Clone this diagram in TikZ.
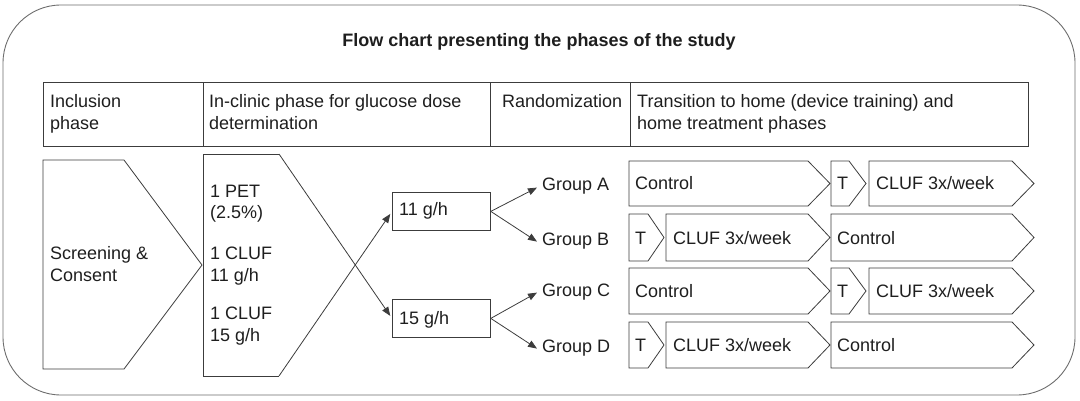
\documentclass[tikz,border=0pt]{standalone}
\usepackage{fontspec}
\setmainfont{Liberation Sans}
\usetikzlibrary{arrows.meta}
\definecolor{ln}{HTML}{3C3C3C}
\definecolor{tx}{HTML}{1E1E1E}
\newcommand\chevpath[5]{\draw[shp] (#1,#4) -- (#2,#4) -- (#3,{(#4+#5)/2}) -- (#2,#5) -- (#1,#5) -- cycle;}
\begin{document}
\begin{tikzpicture}[x=1pt,y=-1pt,
  shp/.style={draw=ln,line width=0.8pt,line join=miter},
  cell/.style={draw=ln,line width=0.8pt,anchor=north west,inner sep=0pt},
  txt/.style={text=tx,inner sep=0pt,font=\fontsize{18}{21.8}\selectfont,align=left},
  arr/.style={draw=ln,line width=0.8pt,-{Triangle[length=9pt,width=7pt]}}
]
\useasboundingbox (0,0) rectangle (1080,401);
\draw[draw=ln!75,line width=0.9pt,rounded corners=58pt] (3,5) rectangle (1075,395);
\node[txt,anchor=base,font=\fontsize{18}{22}\selectfont\bfseries] (title) at (539,47) {Flow chart presenting the phases of the study};
% header cells
\node[cell,minimum width=160pt,minimum height=64.5pt] (h1) at (43,82) {};
\node[cell,minimum width=287pt,minimum height=64.5pt] (h2) at (203,82) {};
\node[cell,minimum width=140pt,minimum height=64.5pt] (h3) at (490,82) {};
\node[cell,minimum width=398pt,minimum height=64.5pt] (h4) at (630,82) {};
\node[txt,anchor=north west] (t1) at (50,94) {Inclusion\\phase};
\node[txt,anchor=north west] (t2) at (209,94) {In-clinic phase for glucose dose\\determination};
\node[txt,anchor=north west] (t3) at (502,94) {Randomization};
\node[txt,anchor=north west] (t4) at (637,94) {Transition to home (device training) and\\home treatment phases};
% screening pentagon
\draw[shp] (43,160) -- (124,160) -- (202,265) -- (124,369) -- (43,369) -- cycle;
\node[txt,anchor=north west] (scr) at (50,246.5) {Screening \&\\Consent};
% in-clinic shape
\coordinate (pt) at (279,154);
\coordinate (pb) at (279,376);
\draw[shp] (pt) -- (203,154) -- (203,376) -- (pb);
\node[txt,anchor=north west] (c1) at (210,184.5) {1 PET\\(2.5\%)};
\node[txt,anchor=north west] (c2) at (210,246.5) {1 CLUF\\11 g/h};
\node[txt,anchor=north west] (c3) at (210,306.5) {1 CLUF\\15 g/h};
% dose boxes
\node[cell,minimum width=98pt,minimum height=38pt] (b11) at (392,192) {};
\node[cell,minimum width=98pt,minimum height=38pt] (b15) at (392,299) {};
\node[txt,anchor=base west] at (399,216) {11 g/h};
\node[txt,anchor=base west] at (399,324) {15 g/h};
\draw[arr,shorten >=3pt] (pt) -- (b15.west);
\draw[arr,shorten >=3pt] (pb) -- (b11.west);
% groups
\node[txt,anchor=base west] (gA) at (542,191) {Group A};
\node[txt,anchor=base west] (gB) at (542,245) {Group B};
\node[txt,anchor=base west] (gC) at (542,296) {Group C};
\node[txt,anchor=base west] (gD) at (542,352) {Group D};
\draw[arr] (b11.east) -- ([xshift=-5pt,yshift=-1pt]gA.west);
\draw[arr] (b11.east) -- ([xshift=-5pt,yshift=-1pt]gB.west);
\draw[arr] (b15.east) -- ([xshift=-5pt,yshift=-1pt]gC.west);
\draw[arr] (b15.east) -- ([xshift=-5pt,yshift=-1pt]gD.west);
% rows A and C
\foreach \yt/\yb/\n in {161/206/a,268/314/c}{
  \chevpath{629}{808}{830}{\yt}{\yb}
  \chevpath{831}{849}{866}{\yt}{\yb}
  \chevpath{869}{1012}{1034}{\yt}{\yb}
  \node[txt,anchor=base west] (ctl\n) at (635,{(\yt+\yb)/2+6.5}) {Control};
  \node[txt,anchor=base west] (tr\n) at (837,{(\yt+\yb)/2+6.5}) {T};
  \node[txt,anchor=base west] (cl\n) at (876,{(\yt+\yb)/2+6.5}) {CLUF 3x/week};
}
% rows B and D
\foreach \yt/\yb/\n in {214/261/b,322/368/d}{
  \chevpath{629}{648}{664}{\yt}{\yb}
  \chevpath{666}{808}{830}{\yt}{\yb}
  \chevpath{831}{1012}{1034}{\yt}{\yb}
  \node[txt,anchor=base west] (tr\n) at (635,{(\yt+\yb)/2+6.5}) {T};
  \node[txt,anchor=base west] (cl\n) at (673,{(\yt+\yb)/2+6.5}) {CLUF 3x/week};
  \node[txt,anchor=base west] (ctl\n) at (837,{(\yt+\yb)/2+6.5}) {Control};
}
\end{tikzpicture}
\end{document}
